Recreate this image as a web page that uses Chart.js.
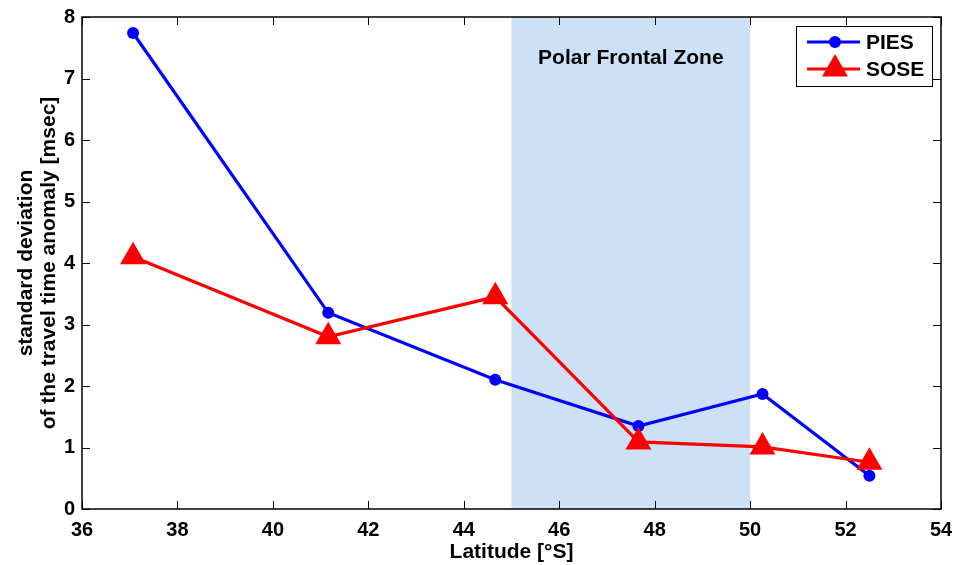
<!DOCTYPE html>
<html>
<head>
<meta charset="utf-8">
<script src="https://cdn.jsdelivr.net/npm/chart.js@4/dist/chart.umd.min.js"></script>
<style>
  html, body { margin: 0; padding: 0; background: #fff; }
  #wrap { width: 957px; height: 565px; }
</style>
</head>
<body>
<div id="wrap"><canvas id="stdChart" width="957" height="565"></canvas></div>
<script>
const latitude = [37.07, 41.16, 44.66, 47.66, 50.26, 52.50];
const piesStd = [7.74, 3.19, 2.10, 1.35, 1.87, 0.54];
const soseStd = [4.10, 2.80, 3.45, 1.09, 1.01, 0.76];
const xTicks = [36, 38, 40, 42, 44, 46, 48, 50, 52, 54];
const yTicks = [0, 1, 2, 3, 4, 5, 6, 7, 8];
const frontalZone = [45, 50];
const zoneLabel = 'Polar Frontal Zone';

const FONT = 'Liberation Sans, Arial, Helvetica, sans-serif';

function toPoints(xs, ys) {
  return xs.map((x, i) => ({ x: x, y: ys[i] }));
}

// shaded zone, box with inward ticks, legend
const decorPlugin = {
  id: 'decor',
  beforeDatasetsDraw(chart) {
    const ctx = chart.ctx;
    const xs = chart.scales.x;
    const area = chart.chartArea;
    const x0 = xs.getPixelForValue(frontalZone[0]);
    const x1 = xs.getPixelForValue(frontalZone[1]);
    ctx.save();
    ctx.fillStyle = '#cce0f6';
    ctx.fillRect(x0, area.top, x1 - x0, area.bottom - area.top);
    ctx.fillStyle = '#000';
    ctx.font = 'bold 21px ' + FONT;
    ctx.textAlign = 'center';
    ctx.textBaseline = 'middle';
    ctx.fillText(zoneLabel, (x0 + x1) / 2, area.top + 41);
    ctx.restore();
  },
  afterDraw(chart) {
    const ctx = chart.ctx;
    const area = chart.chartArea;
    const xs = chart.scales.x;
    const ys = chart.scales.y;
    const len = 8;
    ctx.save();
    ctx.strokeStyle = '#000';
    ctx.lineWidth = 1;
    ctx.beginPath();
    xTicks.forEach(v => {
      const px = Math.round(xs.getPixelForValue(v)) + 0.5;
      ctx.moveTo(px, area.bottom); ctx.lineTo(px, area.bottom - len);
      ctx.moveTo(px, area.top); ctx.lineTo(px, area.top + len);
    });
    yTicks.forEach(v => {
      const py = Math.round(ys.getPixelForValue(v)) + 0.5;
      ctx.moveTo(area.left, py); ctx.lineTo(area.left + len, py);
      ctx.moveTo(area.right, py); ctx.lineTo(area.right - len, py);
    });
    ctx.stroke();
    ctx.lineWidth = 1.5;
    ctx.strokeRect(area.left, area.top, area.right - area.left, area.bottom - area.top);

    // legend
    const bx = 796, by = 26, bw = 136, bh = 60;
    ctx.fillStyle = '#fff';
    ctx.fillRect(bx, by, bw, bh);
    ctx.lineWidth = 1;
    ctx.strokeRect(bx + 0.5, by + 0.5, bw, bh);
    const rows = [
      { label: 'PIES', color: '#0000ff', y: 42, marker: 'circle' },
      { label: 'SOSE', color: '#ff0000', y: 69, marker: 'triangle' }
    ];
    rows.forEach(r => {
      ctx.strokeStyle = r.color;
      ctx.fillStyle = r.color;
      ctx.lineWidth = 3;
      ctx.beginPath();
      ctx.moveTo(807, r.y); ctx.lineTo(860, r.y);
      ctx.stroke();
      ctx.beginPath();
      if (r.marker === 'circle') {
        ctx.arc(835, r.y, 6, 0, Math.PI * 2);
      } else {
        const rad = 15;
        const side = 3 * rad / Math.sqrt(3);
        const h = side * Math.sqrt(3) / 2;
        ctx.moveTo(835 - side / 2, r.y + h / 3);
        ctx.lineTo(835 + side / 2, r.y + h / 3);
        ctx.lineTo(835, r.y - 2 * h / 3);
        ctx.closePath();
      }
      ctx.fill();
      ctx.fillStyle = '#000';
      ctx.font = 'bold 21px ' + FONT;
      ctx.textAlign = 'left';
      ctx.textBaseline = 'middle';
      ctx.fillText(r.label, 866, r.y + 1);
    });
    ctx.restore();
  }
};

new Chart(document.getElementById('stdChart'), {
  type: 'scatter',
  data: {
    datasets: [{
      label: 'PIES',
      data: toPoints(latitude, piesStd),
      showLine: true,
      borderColor: '#0000ff',
      backgroundColor: '#0000ff',
      borderWidth: 3.2,
      pointStyle: 'circle',
      pointRadius: 6,
      pointBorderWidth: 0,
      order: 2
    }, {
      label: 'SOSE',
      data: toPoints(latitude, soseStd),
      showLine: true,
      borderColor: '#ff0000',
      backgroundColor: '#ff0000',
      borderWidth: 3.2,
      pointStyle: 'triangle',
      pointRadius: 15,
      pointBorderWidth: 0,
      order: 1
    }]
  },
  options: {
    responsive: false,
    animation: false,
    layout: { padding: { top: 17, right: 16, left: 0, bottom: 0 } },
    plugins: {
      legend: { display: false },
      tooltip: { enabled: false }
    },
    scales: {
      x: {
        type: 'linear',
        min: 36,
        max: 54,
        afterBuildTicks(scale) { scale.ticks = xTicks.map(v => ({ value: v })); },
        afterFit(scale) { scale.height = 56; scale.paddingRight = 0; scale.paddingLeft = 0; },
        grid: { display: false, drawTicks: false },
        border: { display: false },
        ticks: { color: '#000', font: { family: FONT, size: 20, weight: 'bold' }, padding: 9, maxRotation: 0 },
        title: { display: true, text: 'Latitude [°S]', color: '#000', font: { family: FONT, size: 21, weight: 'bold', lineHeight: 1.2 }, padding: { top: 0, bottom: 0 } }
      },
      y: {
        min: 0,
        max: 8,
        afterBuildTicks(scale) { scale.ticks = yTicks.map(v => ({ value: v })); },
        afterFit(scale) { scale.width = 82; scale.paddingTop = 0; scale.paddingBottom = 0; },
        grid: { display: false, drawTicks: false },
        border: { display: false },
        ticks: { color: '#000', font: { family: FONT, size: 20, weight: 'bold' }, padding: 7 },
        title: { display: true, text: ['standard deviation', 'of the travel time anomaly [msec]'], color: '#000', font: { family: FONT, size: 21, weight: 'bold', lineHeight: 1.1 }, padding: { top: 15, bottom: 0 } }
      }
    }
  },
  plugins: [decorPlugin]
});
</script>
</body>
</html>
